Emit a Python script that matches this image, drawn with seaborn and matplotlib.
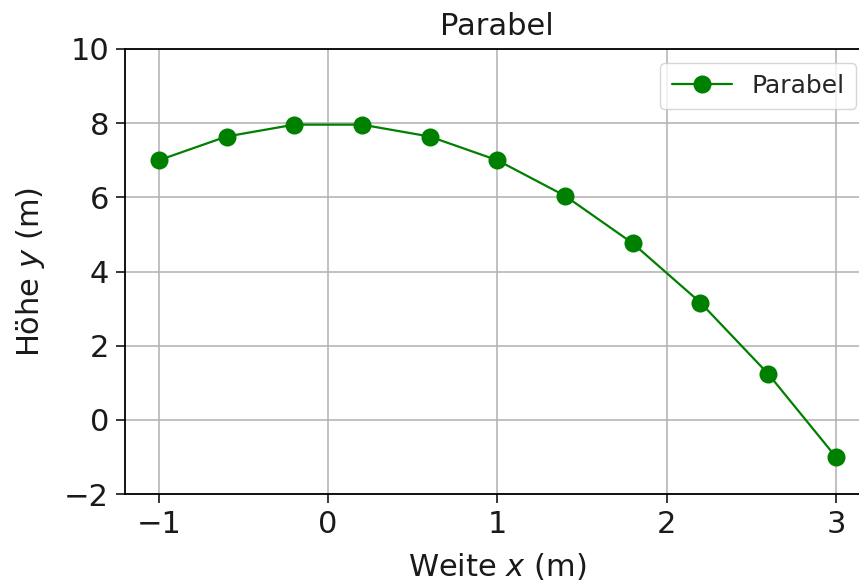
import matplotlib
matplotlib.use("Agg")
import matplotlib.pyplot as plt
import seaborn as sns
import pandas as pd

# Sample points of the parabola
weite = [-1.0, -0.6, -0.2, 0.2, 0.6, 1.0, 1.4, 1.8, 2.2, 2.6, 3.0]
hoehe = [7.0, 7.64, 7.96, 7.96, 7.64, 7.0, 6.04, 4.76, 3.16, 1.24, -1.0]
y_ticks = [-2, 0, 2, 4, 6, 8, 10]
x_ticks = [-1, 0, 1, 2, 3]

sns.set_style("ticks")
plt.rcParams["font.family"] = ["DejaVu Sans"]
plt.rcParams["axes.unicode_minus"] = True

df = pd.DataFrame({"x": weite, "y": hoehe})

fig = plt.figure(figsize=(8.59, 5.84), dpi=100)
ax = fig.add_axes([0.1455, 0.1541, 0.867, 0.762])

sns.lineplot(data=df, x="x", y="y", ax=ax, color="green", marker="o",
             markersize=13, markeredgecolor="green", markeredgewidth=0,
             linewidth=1.6, label="Parabel")

ax.set_xlim(-1.2, 3.2)
ax.set_ylim(-2, 10)
ax.set_xticks(x_ticks)
ax.set_yticks(y_ticks)
ax.grid(True, color="#b0b0b0", linewidth=1.1)
ax.set_axisbelow(True)
for s in ax.spines.values():
    s.set_visible(True)
    s.set_color("black")
    s.set_linewidth(1.3)
ax.tick_params(axis="both", labelsize=22, length=6.5, width=1.1, color="black",
               labelcolor="#1a1a1a", pad=5)

ax.set_xlabel("Weite $x$ (m)", fontsize=22, color="#1a1a1a", labelpad=9)
ax.set_ylabel("Höhe $y$ (m)", fontsize=22, color="#1a1a1a", labelpad=12)
ax.set_title("Parabel", fontsize=22, color="#1a1a1a", pad=10)

leg = ax.legend(loc="upper right", fontsize=18, frameon=True, fancybox=True,
                framealpha=0.8, edgecolor="#cccccc", handlelength=2.4,
                borderpad=0.45, borderaxespad=0.55)

fig.savefig("out.png", dpi=100)
